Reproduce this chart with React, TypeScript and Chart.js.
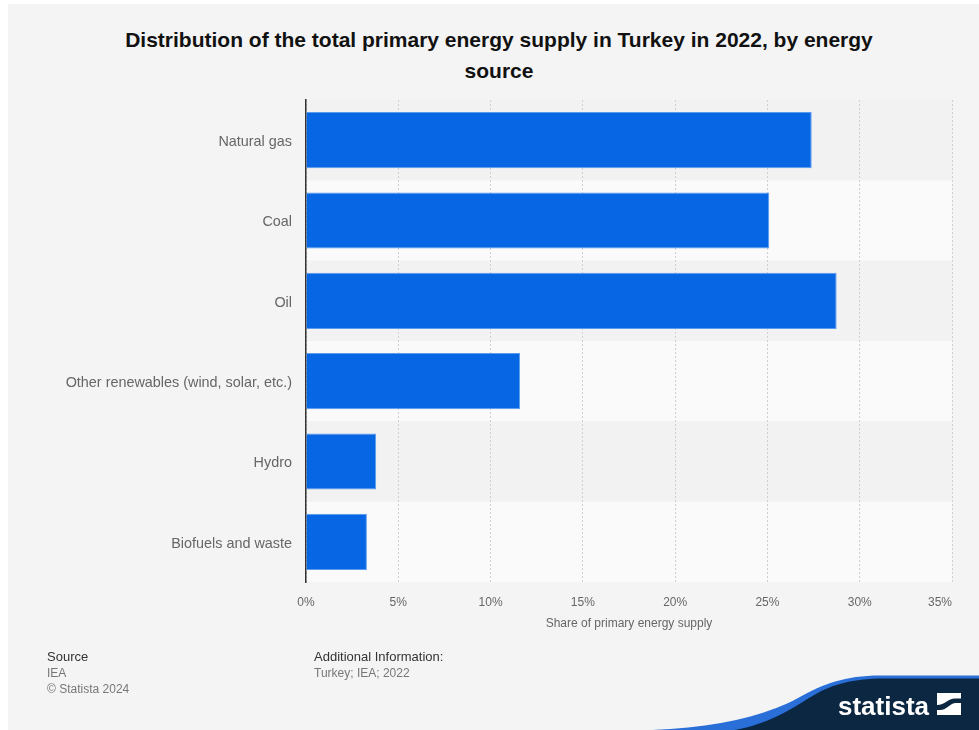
import React, { useEffect, useRef } from "react";
import { Chart, registerables } from "chart.js";

Chart.register(...registerables);

const categories = [
  "Natural gas",
  "Coal",
  "Oil",
  "Other renewables (wind, solar, etc.)",
  "Hydro",
  "Biofuels and waste",
];
const shares = [27.4, 25.1, 28.75, 11.6, 3.8, 3.3];
const xTickMax = 35;
const xTickStep = 5;
const titleLines = [
  "Distribution of the total primary energy supply in Turkey in 2022, by energy",
  "source",
];
const xAxisTitle = "Share of primary energy supply";

const FONT = "'Liberation Sans', Arial, Helvetica, sans-serif";

const bandsPlugin = {
  id: "bands",
  beforeDraw(chart: any) {
    const { ctx, chartArea, scales } = chart;
    const y = scales.y;
    const n = chart.data.labels.length;
    const h = (y.bottom - y.top) / n;
    ctx.save();
    for (let i = 0; i < n; i++) {
      const c = y.getPixelForValue(i);
      ctx.fillStyle = i % 2 === 0 ? "#f2f2f2" : "#fafafa";
      ctx.fillRect(chartArea.left, c - h / 2, chartArea.right - chartArea.left, h);
    }
    ctx.restore();
    // right-align the last x tick label inside the plot
    const xItems = scales.x.getLabelItems(chartArea);
    if (xItems && xItems.length) {
      xItems[xItems.length - 1].options.textAlign = "right";
    }
    // nudge category labels slightly down, as in the reference
    const yItems = scales.y.getLabelItems(chartArea);
    if (yItems) {
      yItems.forEach((it: any) => {
        if (!it._nudged) {
          it.options.translation = [it.options.translation[0], it.options.translation[1] + 2];
          it._nudged = true;
        }
      });
    }
  },
};

export default function App() {
  const ref = useRef<HTMLCanvasElement | null>(null);

  useEffect(() => {
    if (!ref.current) return;
    const chart = new Chart(ref.current, {
      type: "bar",
      data: {
        labels: categories,
        datasets: [
          {
            data: shares,
            backgroundColor: "#0766e3",
            borderColor: "#5b9bef",
            borderWidth: 1,
            borderSkipped: "start",
            categoryPercentage: 0.7,
            barPercentage: 1,
          },
        ],
      },
      options: {
        indexAxis: "y",
        animation: false,
        responsive: false,
        maintainAspectRatio: false,
        devicePixelRatio: 1,
        layout: { padding: { top: 96, right: 27, left: 0, bottom: 98 } },
        plugins: {
          legend: { display: false },
          tooltip: { enabled: false },
          title: { display: false },
        },
        scales: {
          x: {
            min: 0,
            max: xTickMax,
            afterFit(scale: any) {
              scale.height = 50;
            },
            ticks: {
              stepSize: xTickStep,
              padding: 13,
              color: "#666",
              font: { family: FONT, size: 12 },
              callback: (v: any) => v + "%",
              maxRotation: 0,
            },
            grid: {
              color: "#cfcfcf",
              lineWidth: 1,
              drawTicks: false,
            },
            border: { display: false, dash: [2, 2] },
            title: {
              display: true,
              text: xAxisTitle,
              color: "#666",
              font: { family: FONT, size: 12 },
              padding: { top: 0, bottom: 1 },
            },
          },
          y: {
            afterFit(scale: any) {
              scale.width = 298;
            },
            ticks: {
              padding: 14,
              color: "#666",
              font: { family: FONT, size: 14.4 },
            },
            grid: { display: false, drawTicks: false },
            border: { display: true, color: "#333", width: 1.5 },
          },
        },
      },
      plugins: [bandsPlugin],
    } as any);
    return () => chart.destroy();
  }, []);

  return (
    <div
      style={{
        position: "absolute",
        left: 8,
        top: 4,
        width: 971,
        height: 726,
        background: "#f4f4f4",
        fontFamily: FONT,
        overflow: "hidden",
      }}
    >
      <div
        style={{
          position: "absolute",
          left: 491 - 400,
          top: 20,
          width: 800,
          textAlign: "center",
          fontSize: 21,
          fontWeight: "bold",
          lineHeight: "31px",
          color: "#111",
        }}
      >
        {titleLines[0]}
        <br />
        {titleLines[1]}
      </div>
      <canvas
        ref={ref}
        width={971}
        height={726}
        style={{ position: "absolute", left: 0, top: 0, width: 971, height: 726 }}
      />
      <div
        style={{
          position: "absolute",
          left: 39,
          top: 645,
          fontSize: 12,
          lineHeight: "16px",
          color: "#777",
        }}
      >
        <div style={{ color: "#333", fontSize: 13 }}>Source</div>
        <div>IEA</div>
        <div>© Statista 2024</div>
      </div>
      <div
        style={{
          position: "absolute",
          left: 306,
          top: 645,
          fontSize: 12,
          lineHeight: "16px",
          color: "#777",
        }}
      >
        <div style={{ color: "#333", fontSize: 13 }}>Additional Information:</div>
        <div>Turkey; IEA; 2022</div>
      </div>
      <svg
        width={971}
        height={726}
        viewBox="8 4 971 726"
        style={{ position: "absolute", left: 0, top: 0, pointerEvents: "none" }}
      >
        <path
          d="M 652 730 C 715 728, 765 716, 798 698 C 823 684, 845 675.5, 880 675.5 L 979 675.5 L 979 730 Z"
          fill="#2a6fd8"
        />
        <path
          d="M 735 730 C 768 724, 790 710, 809 698 C 830 685, 850 678.5, 885 678.5 L 979 678.5 L 979 730 Z"
          fill="#0b2741"
        />
        <text
          x={838}
          y={715}
          fill="#ffffff"
          fontFamily={FONT}
          fontWeight="bold"
          fontSize={26}
        >
          statista
        </text>
        <rect x={937} y={693} width={24} height={22} fill="#ffffff" />
        <path
          d="M 937 705 C 945 705, 948 698.5, 955 698.5 L 961 698.5 L 961 703 L 956 703 C 950 703, 947 710, 940 710 L 937 710 Z"
          fill="#0b2741"
        />
      </svg>
    </div>
  );
}
